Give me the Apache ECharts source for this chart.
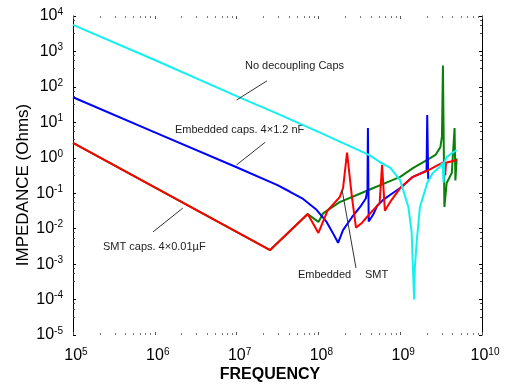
<!DOCTYPE html>
<html>
<head>
<meta charset="utf-8">
<script src="https://cdn.jsdelivr.net/npm/echarts@6/dist/echarts.min.js"></script>
<style>
  html, body { margin: 0; padding: 0; background: #fff; }
  #chart { width: 507px; height: 385px; }
</style>
</head>
<body>
<div id="chart"></div>
<script>
// values: frequency in Hz, impedance in Ohms
const noCapsFreq = [1e5, 1e6, 1e7, 3.2e7, 1e8, 2.0e8, 3.2e8, 4.3e8, 5.6e8, 7.6e8, 1.0e9, 1.26e9, 1.38e9, 1.43e9, 1.48e9, 1.51e9, 1.6e9, 1.74e9, 2.14e9, 2.5e9, 3.1e9, 3.3e9, 3.39e9, 3.47e9, 3.7e9, 4.3e9, 4.9e9];
const noCapsZ = [5600, 575, 55, 17.4, 5.4, 2.6, 1.6, 1.15, 0.76, 0.52, 0.23, 0.04, 0.008, 8e-4, 1e-4, 8e-4, 0.005, 0.04, 0.195, 0.37, 0.58, 0.72, 0.2, 0.76, 1.05, 1.35, 1.66];

const embFreq = [1e5, 1e6, 1e7, 3.16e7, 4.5e7, 6.5e7, 9.5e7, 1.26e8, 1.5e8, 1.74e8, 2.0e8, 2.57e8, 3.24e8, 3.8e8, 3.98e8, 4.03e8, 4.12e8, 4.68e8, 5.25e8, 6.2e8, 7.5e8, 1e9, 1.43e9, 2.1e9, 2.14e9, 2.2e9];
const embZ = [51, 5.2, 0.54, 0.17, 0.11, 0.069, 0.034, 0.0155, 0.0076, 0.004, 0.0091, 0.021, 0.041, 0.071, 0.126, 6.9, 0.016, 0.025, 0.045, 0.065, 0.089, 0.14, 0.29, 0.43, 16, 0.25];

const smtFreq = [1e5, 2.57e7, 7.4e7, 1e8, 1.29e8, 1.82e8, 2.0e8, 2.24e8, 2.57e8, 2.88e8, 3.4e8, 3.9e8, 4.7e8, 5.6e8, 6.0e8, 6.5e8, 7.5e8, 1e9, 1.43e9, 2.14e9, 2.8e9, 3.47e9, 3.55e9, 3.63e9, 4.9e9];
const smtZ = [2.63, 0.0025, 0.026, 0.0076, 0.032, 0.078, 0.138, 1.41, 0.078, 0.0107, 0.0145, 0.021, 0.034, 0.052, 0.63, 0.032, 0.056, 0.14, 0.29, 0.43, 0.6, 0.76, 0.32, 0.72, 0.87];

const greenFreq = [1e5, 2.57e7, 7.4e7, 1e8, 1.15e8, 1.82e8, 2.95e8, 4.7e8, 7.5e8, 1e9, 1.43e9, 2.14e9, 2.7e9, 3.1e9, 3.24e9, 3.33e9, 3.47e9, 3.7e9, 4.27e9, 4.62e9, 4.73e9, 4.9e9];
const greenZ = [2.63, 0.0025, 0.026, 0.0155, 0.0275, 0.056, 0.089, 0.14, 0.22, 0.29, 0.51, 0.87, 1.2, 2.0, 4.0, 400, 0.041, 0.195, 0.37, 6.9, 0.23, 0.95];

const pair = (f, z) => f.map((v, i) => [v, z[i]]);

const chart = echarts.init(document.getElementById('chart'));
const font = 'Liberation Sans, Arial, sans-serif';

const powLabel = {
  fontFamily: font,
  color: '#000',
  formatter: v => '{b|10}{s|' + Math.round(Math.log10(v)) + '}',
  rich: {
    b: { fontSize: 16, fontFamily: font, color: '#000', lineHeight: 18 },
    s: { fontSize: 10, fontFamily: font, color: '#000', verticalAlign: 'top', lineHeight: 10, padding: [0, 0, 8, 0] }
  }
};

const lineSeries = (name, data, color) => ({
  name: name,
  type: 'line',
  data: data,
  symbol: 'none',
  lineStyle: { color: color, width: 2 },
  itemStyle: { color: color },
  animation: false
});

const cyan = lineSeries('No decoupling Caps', pair(noCapsFreq, noCapsZ), '#14f0f0');
cyan.markLine = {
  silent: true,
  symbol: 'none',
  label: { show: false },
  lineStyle: { color: '#333', width: 1, type: 'solid' },
  data: [
    [{ coord: [1e7, 42.7] }, { coord: [2.35e7, 148] }],
    [{ coord: [1e7, 0.63] }, { coord: [2.24e7, 2.75] }],
    [{ coord: [9.5e5, 0.0081] }, { coord: [2.2e6, 0.038] }],
    [{ coord: [1.95e8, 0.123] }, { coord: [2.88e8, 7.8e-4] }]
  ]
};

const option = {
  animation: false,
  grid: { left: 73, right: 25, top: 16, bottom: 50 },
  xAxis: [{
    type: 'log',
    min: 1e5,
    max: 1e10,
    splitNumber: 5,
    axisLine: { show: false },
    axisTick: { show: true, inside: true, length: 3, lineStyle: { color: '#555' } },
    minorTick: { show: true, splitNumber: 8, length: 2, lineStyle: { color: '#777' } },
    splitLine: { show: false },
    axisLabel: Object.assign({ margin: 12, padding: [0, 0, 0, 6] }, powLabel)
  }, {
    type: 'log',
    position: 'top',
    min: 1e5,
    max: 1e10,
    splitNumber: 5,
    axisLine: { show: false },
    axisTick: { show: true, inside: true, length: 3, lineStyle: { color: '#555' } },
    minorTick: { show: true, splitNumber: 8, length: 2, lineStyle: { color: '#777' } },
    splitLine: { show: false },
    axisLabel: { show: false }
  }],
  yAxis: [{
    type: 'log',
    min: 1e-5,
    max: 1e4,
    splitNumber: 9,
    axisLine: { show: true, lineStyle: { color: '#000', width: 1 } },
    axisTick: { show: true, inside: true, length: 3, lineStyle: { color: '#000' } },
    minorTick: { show: true, splitNumber: 4, length: 2, lineStyle: { color: '#444' } },
    splitLine: { show: false },
    axisLabel: Object.assign({ margin: 10 }, powLabel)
  }, {
    type: 'log',
    position: 'right',
    min: 1e-5,
    max: 1e4,
    splitNumber: 9,
    axisLine: { show: true, lineStyle: { color: '#000', width: 1 } },
    axisTick: { show: true, inside: true, length: 3, lineStyle: { color: '#000' } },
    minorTick: { show: true, splitNumber: 4, length: 2, lineStyle: { color: '#444' } },
    splitLine: { show: false },
    axisLabel: { show: false }
  }],
  series: [
    lineSeries('SMT', pair(greenFreq, greenZ), '#0a800a'),
    lineSeries('Embedded caps', pair(embFreq, embZ), '#0000ff'),
    lineSeries('SMT caps', pair(smtFreq, smtZ), '#ff0000'),
    cyan
  ],
  graphic: [
    { type: 'text', x: 23, y: 185, rotation: Math.PI / 2, style: { text: 'IMPEDANCE (Ohms)', font: '17px ' + font, fill: '#000', align: 'center', verticalAlign: 'middle' } },
    { type: 'text', style: { text: 'FREQUENCY', font: 'bold 16px ' + font, fill: '#000', align: 'center', verticalAlign: 'middle', x: 270, y: 375 } },
    { type: 'text', style: { text: 'No decoupling Caps', font: '11px ' + font, fill: '#222', x: 245, y: 66, verticalAlign: 'middle' } },
    { type: 'text', style: { text: 'Embedded caps. 4×1.2 nF', font: '11px ' + font, fill: '#222', x: 175, y: 130, verticalAlign: 'middle' } },
    { type: 'text', style: { text: 'SMT caps. 4×0.01µF', font: '11px ' + font, fill: '#222', x: 103, y: 247, verticalAlign: 'middle' } },
    { type: 'text', style: { text: 'Embedded', font: '11px ' + font, fill: '#222', x: 298, y: 275, verticalAlign: 'middle' } },
    { type: 'text', style: { text: 'SMT', font: '11px ' + font, fill: '#222', x: 365, y: 275, verticalAlign: 'middle' } }
  ]
};

chart.setOption(option);
</script>
</body>
</html>
